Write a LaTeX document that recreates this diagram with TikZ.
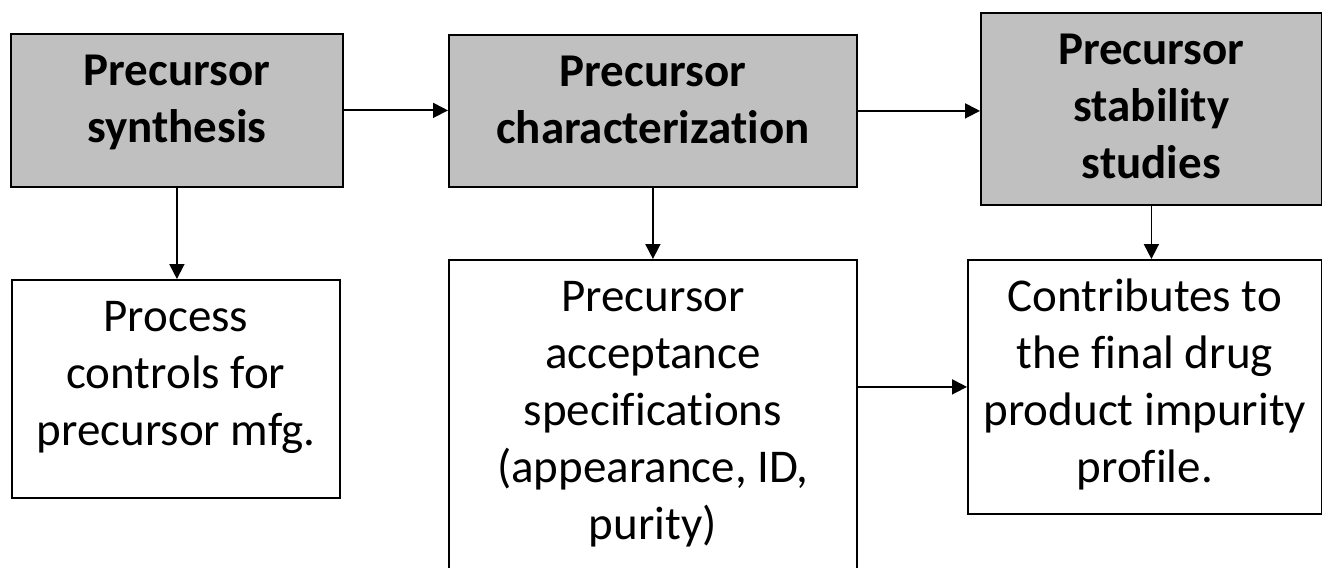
\documentclass[tikz,border=0pt]{standalone}
\usepackage{fontspec}
\setmainfont{Carlito}[Ligatures=NoCommon]
\usetikzlibrary{arrows.meta}
\definecolor{stepgray}{RGB}{192,192,192}
\tikzset{
  box/.style={draw=black, line width=1.8bp, inner sep=0pt, align=flush center,
    anchor=north west, text height=52bp,
    font=\fontsize{47bp}{57bp}\selectfont},
  stagebox/.style={box, fill=stepgray, font=\fontsize{47bp}{57bp}\selectfont\bfseries},
  outbox/.style={box, fill=white},
  flow/.style={line width=1.8bp, -{Triangle[length=15bp, width=15bp]}}
}
\begin{document}
\begin{tikzpicture}[x=1bp, y=-1bp]
\clip (0,0) rectangle (1322,568);
\fill[white] (0,0) rectangle (1322,568);

% process stages
\node[stagebox, text width=332bp, text depth=101bp] (syn) at (10,33)
  {Precursor\\synthesis};
\node[stagebox, text width=408bp, text depth=100bp] (char) at (448,34)
  {Precursor\\characterization};
\node[stagebox, text width=341bp, text depth=140bp] (stab) at (980,12)
  {Precursor\\stability\\studies};

% outcomes
\node[outbox, text width=328bp, text depth=166bp] (proc) at (11,279)
  {Process\\controls for\\precursor mfg.};
\node[outbox, text width=408bp, text depth=278bp] (acc) at (448,259)
  {Precursor\\acceptance\\specifications\\(appearance, ID,\\purity)};
\node[outbox, text width=354bp, text depth=202bp] (contr) at (967,259)
  {Contributes to\\the final drug\\product impurity\\profile.};

% connectors
\draw[flow] (syn.east) -- (syn.east -| char.west);
\draw[flow] (char.east) -- (char.east -| stab.west);
\draw[flow] (syn.south) -- (syn.south |- proc.north);
\draw[flow] (char.south) -- (char.south |- acc.north);
\draw[flow] (stab.south) -- (stab.south |- contr.north);
\draw[flow] (contr.west -| acc.east) -- (contr.west);
\end{tikzpicture}
\end{document}
